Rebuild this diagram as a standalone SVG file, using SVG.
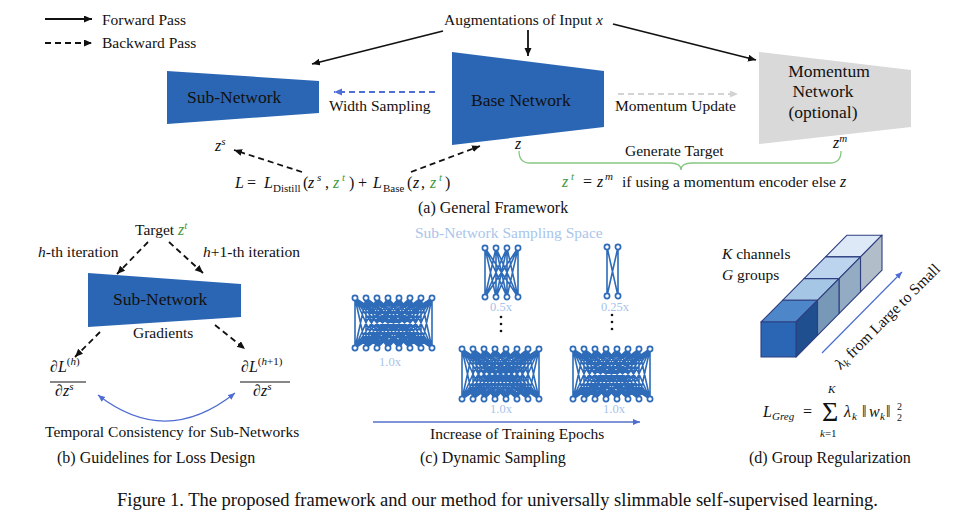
<svg xmlns="http://www.w3.org/2000/svg" width="972" height="525" viewBox="0 0 972 525">
<style>
text { font-family: "Liberation Serif", "Times New Roman", "DejaVu Serif", serif; fill: #111; }
.lbl { font-size: 15.5px; }
.big { font-size: 17.5px; }
.cap { font-size: 16px; }
.m { font-style: italic; }
.g { fill: #3f9b3f; }
.s11 { font-size: 11px; }
.fwd { stroke: #111; stroke-width: 1.8; fill: none; marker-end: url(#ah); }
.bwd { stroke: #111; stroke-width: 1.8; fill: none; stroke-dasharray: 6 4; marker-end: url(#ah); }
.blue-trap { fill: #2b66b4; }
.wires { stroke: #2e6bb8; stroke-width: 1.6; fill: none; }
.nd { fill: #fff; stroke: #2e6bb8; stroke-width: 1.7; }
.sc { font-size: 12.5px; fill: #a7c3ea; }
.cube { stroke: #2e3e80; stroke-width: 1.1; stroke-linejoin: round; }
</style>
<defs>
<marker id="ah" markerUnits="userSpaceOnUse" markerWidth="10" markerHeight="8" refX="8" refY="3.5" orient="auto"><path d="M0,0 L8,3.5 L0,7 z" fill="#111"/></marker>
<marker id="ahb" markerUnits="userSpaceOnUse" markerWidth="10" markerHeight="8" refX="8" refY="3.5" orient="auto"><path d="M0,0 L8,3.5 L0,7 z" fill="#4f6fd6"/></marker>
<marker id="ahg" markerUnits="userSpaceOnUse" markerWidth="10" markerHeight="8" refX="8" refY="3.5" orient="auto"><path d="M0,0 L8,3.5 L0,7 z" fill="#d3d3d3"/></marker>
<marker id="ahc" markerUnits="userSpaceOnUse" markerWidth="10" markerHeight="8" refX="7" refY="3" orient="auto-start-reverse"><path d="M0,0 L7,3 L0,6 z" fill="#4e6cd1"/></marker>
<g id="n8">
<path class="wires" d="M0 0L0 50M0 0L11 50M0 0L22 50M0 0L33 50M0 0L44 50M0 0L55 50M0 0L66 50M0 0L77 50M11 0L0 50M11 0L11 50M11 0L22 50M11 0L33 50M11 0L44 50M11 0L55 50M11 0L66 50M11 0L77 50M22 0L0 50M22 0L11 50M22 0L22 50M22 0L33 50M22 0L44 50M22 0L55 50M22 0L66 50M22 0L77 50M33 0L0 50M33 0L11 50M33 0L22 50M33 0L33 50M33 0L44 50M33 0L55 50M33 0L66 50M33 0L77 50M44 0L0 50M44 0L11 50M44 0L22 50M44 0L33 50M44 0L44 50M44 0L55 50M44 0L66 50M44 0L77 50M55 0L0 50M55 0L11 50M55 0L22 50M55 0L33 50M55 0L44 50M55 0L55 50M55 0L66 50M55 0L77 50M66 0L0 50M66 0L11 50M66 0L22 50M66 0L33 50M66 0L44 50M66 0L55 50M66 0L66 50M66 0L77 50M77 0L0 50M77 0L11 50M77 0L22 50M77 0L33 50M77 0L44 50M77 0L55 50M77 0L66 50M77 0L77 50"/>
<circle class="nd" cx="0" cy="0" r="2.6"/><circle class="nd" cx="11" cy="0" r="2.6"/><circle class="nd" cx="22" cy="0" r="2.6"/><circle class="nd" cx="33" cy="0" r="2.6"/><circle class="nd" cx="44" cy="0" r="2.6"/><circle class="nd" cx="55" cy="0" r="2.6"/><circle class="nd" cx="66" cy="0" r="2.6"/><circle class="nd" cx="77" cy="0" r="2.6"/>
<circle class="nd" cx="0" cy="50" r="2.6"/><circle class="nd" cx="11" cy="50" r="2.6"/><circle class="nd" cx="22" cy="50" r="2.6"/><circle class="nd" cx="33" cy="50" r="2.6"/><circle class="nd" cx="44" cy="50" r="2.6"/><circle class="nd" cx="55" cy="50" r="2.6"/><circle class="nd" cx="66" cy="50" r="2.6"/><circle class="nd" cx="77" cy="50" r="2.6"/>
</g>
</defs>

<!-- Legend -->
<g id="legend">
<line class="fwd" x1="45" y1="19" x2="92" y2="19"/>
<text class="lbl" x="102" y="25">Forward Pass</text>
<line class="bwd" x1="45" y1="43" x2="92" y2="43" stroke-dasharray="7 5"/>
<text class="lbl" x="102" y="48">Backward Pass</text>
</g>

<!-- Panel (a) -->
<g id="input-a">
<text class="lbl" x="444" y="25">Augmentations of Input <tspan class="m">x</tspan></text>
</g>
<g id="subnet-a">
<polygon class="blue-trap" points="167,71 319,81 319,113 167,124"/>
<text class="big" x="187" y="103">Sub-Network</text>
</g>
<g id="basenet">
<polygon class="blue-trap" points="452,52 604,71 604,127 452,145"/>
<text class="big" x="471" y="106">Base Network</text>
</g>
<g id="momnet">
<polygon fill="#d9d9d9" points="759,52 911,70 911,127 759,144"/>
<text class="big" x="829" y="77" text-anchor="middle">Momentum</text>
<text class="big" x="823" y="97" text-anchor="middle">Network</text>
<text class="big" x="823" y="118" text-anchor="middle">(optional)</text>
</g>
<g id="labels-a">
<text class="lbl" x="329" y="111">Width Sampling</text>
<text class="lbl" x="615" y="111">Momentum Update</text>
<text font-size="16" class="m" x="215" y="151">z<tspan class="s11" dy="-6">s</tspan></text>
<text font-size="16" class="m" x="515" y="149">z</text>
<text font-size="16" class="m" x="833" y="148">z<tspan class="s11" dy="-6">m</tspan></text>
<text class="lbl" x="625" y="156">Generate Target</text>
<path d="M519,151 Q519,163 530,163 L670,163 Q681,163 681,170 Q681,163 692,163 L830,163 Q841,163 841,151" fill="none" stroke="#86c882" stroke-width="1.3"/>
<text font-size="16" y="187"><tspan x="562" class="m g">z</tspan><tspan x="571" dy="-7" class="m g s11">t</tspan><tspan x="583" dy="7">=</tspan><tspan x="597" class="m">z</tspan><tspan x="605" dy="-7" class="m s11">m</tspan></text>
<text class="lbl" x="622" y="187" textLength="214" lengthAdjust="spacingAndGlyphs">if using a momentum encoder else</text>
<text font-size="16" class="m" x="840" y="187">z</text>
<text font-size="16" y="188"><tspan x="235" class="m">L</tspan><tspan x="247">=</tspan><tspan x="264" class="m">L</tspan><tspan x="273" dy="4" class="s11">Distill</tspan><tspan x="303" dy="-4">(</tspan><tspan x="308" class="m">z</tspan><tspan x="317" dy="-7" class="m s11">s</tspan><tspan x="325" dy="7">,</tspan><tspan x="333" class="m g">z</tspan><tspan x="342" dy="-7" class="m g s11">t</tspan><tspan x="349" dy="7">)</tspan><tspan x="358">+</tspan><tspan x="373" class="m">L</tspan><tspan x="383" dy="4" class="s11">Base</tspan><tspan x="407" dy="-4">(</tspan><tspan x="413" class="m">z</tspan><tspan x="421">,</tspan><tspan x="430" class="m g">z</tspan><tspan x="439" dy="-7" class="m g s11">t</tspan><tspan x="445" dy="7">)</tspan></text>
<text class="cap" x="418" y="213">(a) General Framework</text>
</g>

<!-- Panel (b) -->
<g id="target-b">
<text class="lbl" x="135" y="235">Target <tspan class="m g" font-size="16">z</tspan><tspan class="m g s11" dy="-6">t</tspan></text>
<text class="lbl" x="38" y="257"><tspan class="m">h</tspan>-th iteration</text>
<text class="lbl" x="203" y="257"><tspan class="m">h</tspan>+1-th iteration</text>
</g>
<g id="subnet-b">
<polygon class="blue-trap" points="88,273 241,284 241,317 88,327"/>
<text class="big" x="113" y="305">Sub-Network</text>
<text class="lbl" x="133" y="338">Gradients</text>
</g>
<g id="grad-h">
<text font-size="16" x="50" y="372">∂<tspan class="m">L</tspan><tspan class="s11" dy="-7">(<tspan class="m">h</tspan>)</tspan></text>
<line x1="50" y1="382" x2="86" y2="382" stroke="#111" stroke-width="1"/>
<text font-size="16" x="55" y="396">∂<tspan class="m">z</tspan><tspan class="m s11" dy="-6">s</tspan></text>
</g>
<g id="grad-h1">
<text font-size="16" x="241" y="372">∂<tspan class="m">L</tspan><tspan class="s11" dy="-7">(<tspan class="m">h</tspan>+1)</tspan></text>
<line x1="240" y1="382" x2="290" y2="382" stroke="#111" stroke-width="1"/>
<text font-size="16" x="253" y="396">∂<tspan class="m">z</tspan><tspan class="m s11" dy="-6">s</tspan></text>
</g>
<g id="labels-b">
<text class="lbl" x="45" y="437">Temporal Consistency for Sub-Networks</text>
<text class="cap" x="57" y="463">(b) Guidelines for Loss Design</text>
</g>

<!-- Panel (c) -->
<g id="panel-c">
<text class="lbl" x="415" y="238" style="fill:#a9c5eb">Sub-Network Sampling Space</text>
<g id="net-left"><use href="#n8" transform="translate(355,298)"/><text class="sc" x="390" y="366" text-anchor="middle">1.0x</text></g>
<g id="net-half">
<path class="wires" transform="translate(485,248)" d="M0 0L0 49M0 0L11 49M0 0L22 49M0 0L33 49M11 0L0 49M11 0L11 49M11 0L22 49M11 0L33 49M22 0L0 49M22 0L11 49M22 0L22 49M22 0L33 49M33 0L0 49M33 0L11 49M33 0L22 49M33 0L33 49"/>
<g transform="translate(485,248)"><circle class="nd" cx="0" cy="0" r="2.6"/><circle class="nd" cx="11" cy="0" r="2.6"/><circle class="nd" cx="22" cy="0" r="2.6"/><circle class="nd" cx="33" cy="0" r="2.6"/><circle class="nd" cx="0" cy="49" r="2.6"/><circle class="nd" cx="11" cy="49" r="2.6"/><circle class="nd" cx="22" cy="49" r="2.6"/><circle class="nd" cx="33" cy="49" r="2.6"/></g>
<text class="sc" x="501" y="311" text-anchor="middle">0.5x</text>
</g>
<g id="net-quarter">
<path class="wires" transform="translate(607,247)" d="M0 0L0 49M0 0L11 49M11 0L0 49M11 0L11 49"/>
<g transform="translate(607,247)"><circle class="nd" cx="0" cy="0" r="2.6"/><circle class="nd" cx="11" cy="0" r="2.6"/><circle class="nd" cx="0" cy="49" r="2.6"/><circle class="nd" cx="11" cy="49" r="2.6"/></g>
<text class="sc" x="615" y="311" text-anchor="middle">0.25x</text>
</g>
<g id="dots">
<circle cx="501" cy="317" r="1.3" fill="#111"/><circle cx="501" cy="324" r="1.3" fill="#111"/><circle cx="501" cy="331" r="1.3" fill="#111"/>
<circle cx="612" cy="315" r="1.3" fill="#111"/><circle cx="612" cy="322" r="1.3" fill="#111"/><circle cx="612" cy="329" r="1.3" fill="#111"/>
</g>
<g id="net-mid"><use href="#n8" transform="translate(462,349)"/><text class="sc" x="501" y="413" text-anchor="middle">1.0x</text></g>
<g id="net-right"><use href="#n8" transform="translate(573,349)"/><text class="sc" x="614" y="413" text-anchor="middle">1.0x</text></g>
<text class="lbl" x="430" y="439">Increase of Training Epochs</text>
<text class="cap" x="420" y="463">(c) Dynamic Sampling</text>
</g>

<!-- Panel (d) -->
<g id="panel-d">
<text class="lbl" x="722" y="259"><tspan class="m">K</tspan> channels</text>
<text class="lbl" x="722" y="280"><tspan class="m">G</tspan> groups</text>
<g id="cubes">
<polygon class="cube" fill="#dde9f6" points="825.5,256.9 860.5,256.9 882,235.2 847,235.2"/>
<polygon class="cube" fill="#b1bdc9" points="860.5,256.9 882,235.2 882,270.2 860.5,291.9"/>
<polygon class="cube" fill="#bcd4ed" points="804,278.6 839,278.6 860.5,256.9 825.5,256.9"/>
<polygon class="cube" fill="#93abc3" points="839,278.6 860.5,256.9 860.5,291.9 839,313.6"/>
<polygon class="cube" fill="#a6c6e6" points="782.5,300.3 817.5,300.3 839,278.6 804,278.6"/>
<polygon class="cube" fill="#7898b8" points="817.5,300.3 839,278.6 839,313.6 817.5,335.3"/>
<polygon class="cube" fill="#4d87c9" points="761,322 796,322 817.5,300.3 782.5,300.3"/>
<polygon class="cube" fill="#1f4f8e" points="796,322 817.5,300.3 817.5,335.3 796,357"/>
<rect class="cube" fill="#2b66b4" x="761" y="322" width="35" height="35"/>
</g>
<text class="lbl" transform="translate(841,370) rotate(-45)"><tspan class="m">λ</tspan><tspan class="m s11" dy="3">k</tspan><tspan dy="-3"> from Large to Small</tspan></text>
<text font-size="16" y="417"><tspan x="763" class="m">L</tspan><tspan x="772" dy="3" class="m s11">Greg</tspan><tspan x="803" dy="-3">=</tspan></text>
<text font-size="28" x="822" y="421">Σ</text>
<text class="m s11" x="828" y="393">K</text>
<text class="s11" x="820" y="437"><tspan class="m">k</tspan>=1</text>
<text font-size="16" y="417"><tspan x="844" class="m">λ</tspan><tspan x="852" dy="3" class="m s11">k</tspan><tspan x="862" dy="-3">‖</tspan><tspan x="869" class="m">w</tspan><tspan x="880" dy="3" class="m s11">k</tspan><tspan x="886" dy="-3">‖</tspan></text>
<text font-size="10" x="897" y="410">2</text>
<text font-size="10" x="897" y="421">2</text>
<text class="cap" x="749" y="463">(d) Group Regularization</text>
</g>

<!-- Connectors -->
<g id="connectors">
<line class="fwd" x1="443" y1="31" x2="312" y2="64"/>
<line class="fwd" x1="528" y1="30" x2="528" y2="56"/>
<line class="fwd" x1="613" y1="24" x2="756" y2="60"/>
<line x1="435" y1="92" x2="334" y2="92" stroke="#4f6fd6" stroke-width="1.8" stroke-dasharray="6 4" marker-end="url(#ahb)"/>
<line x1="618" y1="94" x2="738" y2="94" stroke="#d3d3d3" stroke-width="1.8" stroke-dasharray="6 4" marker-end="url(#ahg)"/>
<line class="bwd" x1="302" y1="172" x2="234" y2="150"/>
<line class="bwd" x1="411" y1="172" x2="480" y2="146"/>
<line class="bwd" x1="148" y1="242" x2="117" y2="274"/>
<line class="bwd" x1="169" y1="242" x2="203" y2="273"/>
<line class="bwd" x1="100" y1="332" x2="75" y2="357"/>
<line class="bwd" x1="215" y1="325" x2="245" y2="349"/>
<path d="M98,395 Q166,448 235,393" fill="none" stroke="#4e6cd1" stroke-width="1.2" marker-start="url(#ahc)" marker-end="url(#ahc)"/>
<line x1="373" y1="422" x2="640" y2="422" stroke="#5470c8" stroke-width="1.3" marker-end="url(#ahc)"/>
<line x1="822" y1="353" x2="902" y2="272" stroke="#4a6fd0" stroke-width="1.2" marker-end="url(#ahc)"/>
</g>

<!-- Caption -->
<text x="117" y="506" font-size="19" textLength="761" lengthAdjust="spacingAndGlyphs">Figure 1. The proposed framework and our method for universally slimmable self-supervised learning.</text>
</svg>
